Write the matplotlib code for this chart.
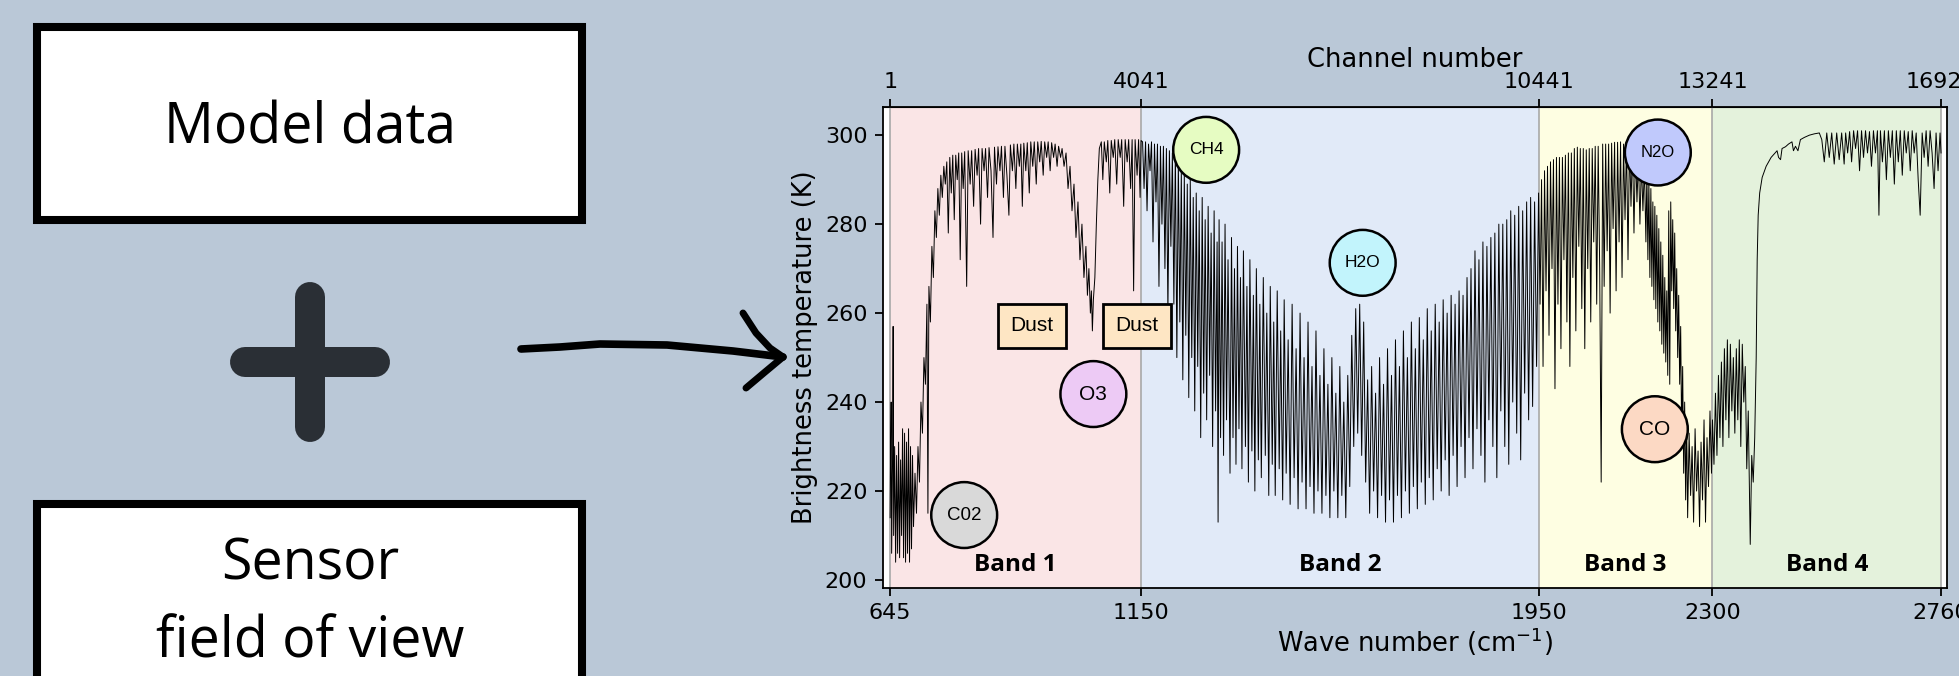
import matplotlib
matplotlib.use('Agg')
import matplotlib.pyplot as plt
from matplotlib.patches import Rectangle

# --- dados ---
band_names = ['Band 1', 'Band 2', 'Band 3', 'Band 4']
band_edges = [645, 1150, 1950, 2300, 2760]
band_colors = ['#fae5e6', '#e1eaf8', '#fefee2', '#e4f2dc']
wn_ticks = [645, 1150, 1950, 2300, 2760]
ch_ticks = [1, 4041, 10441, 13241, 16921]
bt_ticks = [200, 220, 240, 260, 280, 300]

molecules = ['C02', 'O3', 'CH4', 'H2O', 'N2O', 'CO']
mol_wn = [794, 1054, 1281, 1596, 2190, 2184]
mol_bt = [214.6, 241.8, 296.7, 271.3, 296.1, 233.9]
mol_colors = ['#d9d9d9', '#edcaf5', '#e6fcc2', '#c2f4fc', '#c0c9fc', '#fcd9c4']
mol_fontsize = [13.5, 15, 12.5, 12.5, 12, 15]

dust_wn = [931, 1142]
dust_bt = [257.1, 257.1]

# espectro (numero de onda, temperatura de brilho) - picos e vales lidos a olho
band1 = [(645, 214), (646, 231), (647, 240), (648, 206), (650, 229), (651, 257), (652, 210), (654, 230),
         (656, 204), (658, 228), (660, 206), (662, 231), (664, 205), (666, 227), (668, 210), (670, 234),
         (672, 205), (674, 233), (676, 204), (678, 231), (680, 206), (682, 234), (684, 204), (686, 230),
         (688, 207), (690, 228), (692, 212), (695, 224), (698, 215), (701, 230), (704, 222), (707, 240),
         (710, 233), (713, 250), (716, 244), (719, 262), (721, 215), (723, 266), (726, 258), (729, 275),
         (732, 268), (735, 283), (738, 277), (741, 288), (744, 282), (747, 291), (750, 286), (753, 293),
         (756, 289), (759, 294), (762, 278), (765, 295), (768, 287), (771, 295.5), (774, 281), (777, 295.5),
         (780, 290), (783, 296), (786, 272), (789, 296), (792, 288), (795, 296.3), (799, 266), (802, 296.5),
         (806, 289), (809, 296.5), (813, 284), (816, 296.8), (820, 291), (823, 297), (827, 280), (830, 297),
         (834, 292), (837, 297), (841, 286), (844, 297.2), (848, 292), (852, 277), (855, 297.3), (859, 289),
         (862, 297.4), (866, 292), (869, 297.5), (873, 286), (876, 297.5), (880, 291), (884, 282), (887, 297.8),
         (891, 292), (894, 298), (898, 288), (901, 298), (905, 293), (908, 298), (911, 284), (914, 298.2),
         (918, 292), (921, 298.3), (925, 287), (928, 298.5), (932, 293), (935, 298.5), (939, 289), (942, 298.5),
         (946, 294), (949, 298.6), (953, 291), (956, 298.5), (960, 295), (963, 298.5), (967, 292), (970, 298.3),
         (974, 295), (977, 298), (981, 293), (984, 297.5), (988, 295), (991, 297),
         (995, 293), (999, 296), (1003, 288), (1007, 293), (1011, 283), (1015, 289), (1019, 277), (1023, 285),
         (1027, 272), (1031, 280), (1035, 268), (1039, 275), (1042, 264), (1045, 270), (1048, 260), (1050, 265),
         (1052, 256), (1054, 263), (1057, 268), (1060, 280), (1063, 290), (1066, 297),
         (1070, 298.5), (1073, 290), (1076, 298.5), (1080, 294), (1083, 298.8), (1087, 287), (1090, 298.8),
         (1094, 295), (1097, 299), (1101, 289), (1104, 299), (1108, 295), (1111, 299), (1115, 284), (1118, 299),
         (1122, 294), (1125, 299), (1129, 288), (1132, 299), (1135, 265), (1138, 299), (1142, 291), (1145, 299),
         (1148, 286), (1150, 298.8)]

band2 = [(1153, 298.5), (1156, 288), (1159, 298.5), (1162, 283), (1165, 298), (1168, 292), (1171, 298.5),
         (1174, 276), (1177, 298), (1180, 285), (1183, 298), (1186, 266), (1189, 297.5), (1192, 280),
         (1195, 297.5), (1198, 270), (1201, 297), (1204, 260), (1207, 296.5), (1210, 275), (1213, 296),
         (1216, 262), (1219, 296), (1222, 250), (1225, 294), (1228, 258), (1231, 292), (1234, 245), (1237, 291),
         (1240, 255), (1243, 289), (1246, 241), (1249, 290), (1252, 250), (1255, 286), (1258, 238), (1261, 287),
         (1264, 248), (1267, 283), (1270, 232), (1273, 286), (1276, 242), (1279, 281), (1282, 236), (1285, 284),
         (1288, 246), (1291, 278), (1294, 230), (1297, 283), (1300, 238), (1303, 276), (1305, 213), (1307, 281),
         (1310, 232), (1313, 276), (1316, 228), (1319, 280), (1322, 236), (1325, 272), (1329, 224), (1332, 277),
         (1335, 232), (1338, 270), (1341, 226), (1344, 275), (1347, 234), (1350, 268), (1353, 225), (1356, 274),
         (1360, 230), (1363, 266), (1366, 222), (1369, 272), (1373, 229), (1376, 264), (1379, 220), (1382, 270),
         (1386, 227), (1389, 262), (1392, 223), (1396, 268), (1400, 228), (1403, 260), (1407, 219), (1410, 266),
         (1414, 226), (1417, 258), (1420, 219), (1424, 265), (1428, 225), (1431, 256), (1435, 218), (1438, 263),
         (1442, 224), (1446, 254), (1450, 217), (1454, 262), (1458, 223), (1462, 252), (1466, 216), (1470, 260),
         (1474, 222), (1478, 250), (1482, 216), (1486, 258), (1490, 221), (1494, 248), (1498, 215), (1502, 256),
         (1506, 220), (1510, 246), (1514, 215), (1518, 252), (1522, 219), (1526, 244), (1530, 214), (1534, 250),
         (1538, 220), (1542, 242), (1546, 214), (1550, 248), (1554, 219), (1558, 240), (1562, 214), (1566, 246),
         (1570, 221), (1574, 255), (1578, 230), (1582, 261), (1586, 233), (1590, 262), (1594, 228), (1598, 258),
         (1602, 222), (1606, 245), (1610, 215), (1614, 248), (1618, 220), (1622, 242), (1626, 214), (1630, 250),
         (1634, 219), (1638, 244), (1642, 213), (1646, 252), (1650, 218), (1654, 246), (1658, 213), (1662, 254),
         (1666, 219), (1670, 248), (1674, 214), (1678, 256), (1682, 220), (1686, 250), (1690, 215), (1694, 258),
         (1698, 221), (1702, 252), (1706, 216), (1710, 259), (1714, 222), (1718, 254), (1722, 217), (1726, 261),
         (1730, 223), (1734, 256), (1738, 218), (1742, 262), (1746, 225), (1750, 258), (1754, 220), (1758, 263),
         (1762, 227), (1766, 260), (1770, 219), (1774, 264), (1778, 228), (1782, 262), (1786, 221), (1790, 265),
         (1794, 230), (1798, 264), (1802, 223), (1806, 268), (1810, 232), (1814, 270), (1818, 225), (1822, 274),
         (1826, 234), (1830, 272), (1834, 228), (1838, 276), (1842, 222), (1846, 275), (1850, 236), (1854, 277),
         (1858, 230), (1862, 278), (1866, 223), (1870, 280), (1874, 238), (1878, 280), (1882, 230), (1886, 281),
         (1890, 226), (1894, 283), (1898, 240), (1902, 282), (1906, 233), (1910, 284), (1914, 227), (1918, 283),
         (1922, 242), (1926, 285), (1930, 236), (1934, 286), (1938, 239), (1942, 285), (1946, 248), (1950, 287)]

band3 = [(1953, 262), (1956, 290), (1959, 248), (1962, 292), (1965, 265), (1968, 293), (1971, 255), (1974, 294),
         (1977, 270), (1980, 294.5), (1983, 243), (1986, 295), (1989, 262), (1992, 295), (1995, 252), (1998, 295),
         (2001, 272), (2004, 295.5), (2007, 258), (2010, 296), (2013, 248), (2016, 296), (2019, 268), (2022, 297),
         (2025, 256), (2028, 297.3), (2031, 275), (2034, 297), (2037, 261), (2040, 297), (2043, 252), (2046, 296.7),
         (2049, 270), (2052, 297), (2055, 258), (2058, 297), (2061, 276), (2064, 297.5), (2067, 262), (2070, 297.5),
         (2073, 270), (2076, 222), (2079, 298), (2082, 266), (2085, 298), (2088, 274), (2091, 298), (2094, 260),
         (2097, 298.2), (2100, 279), (2103, 298.4), (2106, 265), (2109, 298.4), (2112, 276), (2115, 298.5),
         (2118, 268), (2121, 298), (2124, 281), (2127, 298.5), (2130, 272), (2133, 298.6), (2136, 284), (2139, 298),
         (2142, 278), (2145, 297), (2148, 285), (2151, 295), (2154, 280), (2157, 294), (2160, 283), (2163, 293),
         (2166, 276), (2168, 292), (2170, 272), (2172, 290), (2174, 268), (2176, 288), (2178, 266), (2180, 285),
         (2182, 263), (2184, 284), (2186, 261), (2188, 282), (2190, 258), (2192, 279), (2194, 256), (2196, 276),
         (2198, 253), (2200, 273), (2202, 251), (2204, 268), (2206, 249), (2208, 265), (2210, 246), (2212, 283),
         (2214, 244), (2216, 285), (2218, 265), (2220, 281), (2222, 261), (2224, 278), (2226, 256), (2228, 270),
         (2230, 250), (2232, 264), (2234, 244), (2236, 257), (2238, 232), (2240, 248), (2242, 224), (2244, 240),
         (2246, 218), (2248, 236), (2250, 214), (2253, 233), (2256, 219), (2259, 230), (2262, 213), (2265, 234),
         (2268, 220), (2271, 229), (2274, 212), (2277, 231), (2280, 218), (2283, 236), (2286, 213), (2289, 232),
         (2292, 221), (2295, 238), (2298, 224)]

band4 = [(2300, 236), (2303, 226), (2306, 242), (2309, 228), (2312, 246), (2315, 232), (2318, 249), (2321, 230),
         (2324, 252), (2327, 236), (2330, 254), (2333, 232), (2336, 253), (2339, 238), (2342, 250), (2345, 233),
         (2348, 252), (2351, 236), (2354, 254), (2357, 230), (2360, 253), (2363, 240), (2366, 248), (2369, 225),
         (2372, 238), (2376, 208), (2379, 228), (2382, 222), (2385, 232), (2388, 250), (2390, 272), (2392, 282),
         (2395, 287), (2400, 290.5), (2408, 293), (2418, 295), (2430, 296.5), (2433, 295), (2437, 294.5),
         (2440, 297), (2447, 297.4), (2453, 298), (2460, 298.5), (2463, 296.5), (2467, 297.5), (2472, 296.5),
         (2477, 299), (2485, 299.5), (2495, 300), (2505, 300.3), (2515, 300.5), (2520, 299),
         (2525, 294), (2530, 300.5), (2535, 295), (2540, 300.5), (2545, 293.5), (2550, 300.5), (2555, 294.5),
         (2560, 300.5), (2565, 293.5), (2568, 300.5), (2572, 296), (2576, 300.8), (2580, 294), (2584, 301),
         (2588, 297), (2592, 301), (2596, 292), (2600, 301), (2604, 295), (2608, 301), (2612, 296), (2616, 300.8),
         (2620, 293), (2624, 301), (2628, 296), (2632, 301), (2635, 282), (2638, 301), (2642, 294), (2646, 301),
         (2650, 290), (2654, 301), (2658, 295), (2662, 301), (2666, 289), (2670, 301), (2674, 294), (2678, 301),
         (2682, 291), (2686, 301), (2690, 296), (2694, 300.8), (2698, 292), (2702, 301), (2706, 296), (2710, 300.5),
         (2714, 290), (2718, 282), (2722, 300.5), (2726, 295), (2730, 301), (2734, 293), (2738, 301), (2742, 296),
         (2746, 288), (2750, 300.5), (2754, 292), (2758, 300.5), (2760, 296)]

spectrum = band1 + band2 + band3 + band4
wave_number = [p[0] for p in spectrum]
bright_temp = [p[1] for p in spectrum]

bg = '#bac8d7'

fig = plt.figure(figsize=(19.59, 6.76), dpi=100)
fig.patch.set_facecolor(bg)

# --- lado esquerdo: caixas, sinal de mais e seta (coordenadas em pixels) ---
left = fig.add_axes([0, 0, 1, 1])
left.set_xlim(0, 1959)
left.set_ylim(676, 0)
left.axis('off')

left.add_patch(Rectangle((37, 27), 545, 193, facecolor='white', edgecolor='black', lw=5.8))
left.add_patch(Rectangle((37, 504), 545, 300, facecolor='white', edgecolor='black', lw=5.8))
left.text(310, 144, 'Model data', family='Open Sans', fontsize=40, ha='center', va='baseline')
left.text(310, 580, 'Sensor', family='Open Sans', fontsize=40, ha='center', va='baseline')
left.text(310, 657, 'field of view', family='Open Sans', fontsize=40, ha='center', va='baseline')

plus_color = '#2a2f35'
left.plot([245, 375], [362, 362], color=plus_color, lw=21.6, solid_capstyle='round')
left.plot([310, 310], [297, 427], color=plus_color, lw=21.6, solid_capstyle='round')

left.plot([521, 560, 600, 667, 733, 783], [349, 347, 344, 345, 351, 357], color='black', lw=5.5,
          solid_capstyle='round', solid_joinstyle='round')
left.plot([743, 756, 770, 783], [313, 333, 348, 357], color='black', lw=5, solid_capstyle='round')
left.plot([783, 765, 746], [357, 372, 388], color='black', lw=5, solid_capstyle='round')

# --- grafico do espectro ---
ax = fig.add_axes([882.7 / 1959, 1 - 588 / 676, (1947 - 882.7) / 1959, (588 - 106.7) / 676])
ax.set_facecolor('white')

for i in range(len(band_names)):
    lo, hi = band_edges[i], band_edges[i + 1]
    ax.axvspan(lo, hi, color=band_colors[i], lw=0, zorder=0)
    ax.text((lo + hi) / 2, 203.3, band_names[i], family='Open Sans', fontweight='bold',
            fontsize=17.5, ha='center', va='center', zorder=5)
for e in band_edges:
    ax.axvline(e, color='#a8a8a8', lw=1.2, zorder=0.5)

ax.plot(wave_number, bright_temp, color='black', lw=0.7, zorder=2)

ax.scatter(mol_wn, mol_bt, s=2250, c=mol_colors, edgecolors='black', linewidths=1.8, zorder=6)
for m, x, y, fs in zip(molecules, mol_wn, mol_bt, mol_fontsize):
    ax.text(x, y, m, family='Liberation Sans', fontsize=fs, ha='center', va='center', zorder=7)

for x, y in zip(dust_wn, dust_bt):
    ax.text(x, y, 'Dust', family='Liberation Sans', fontsize=15, ha='center', va='center', zorder=7,
            bbox=dict(boxstyle='square,pad=0.6', facecolor='#fee6c4', edgecolor='black', lw=2))

ax.set_xlim(630, 2772)
ax.set_ylim(198.2, 306.4)
ax.set_xticks(wn_ticks)
ax.set_yticks(bt_ticks)
ax.tick_params(labelsize=16, length=6, width=1.3, pad=5)
for s in ax.spines.values():
    s.set_linewidth(1.3)

ax.set_xlabel('Wave number (cm$^{-1}$)', fontsize=18.5)
ax.xaxis.set_label_coords(0.5, -0.078)
ax.set_ylabel('Brightness temperature (K)', fontsize=18.5)
ax.yaxis.set_label_coords(-0.0608, 0.5)

secax = ax.secondary_xaxis('top', functions=(lambda w: (w - 645) * 8 + 1, lambda c: (c - 1) / 8 + 645))
secax.set_xticks(ch_ticks)
secax.tick_params(labelsize=16, length=6, width=1.3, pad=4.5)
secax.set_xlabel('Channel number', fontsize=18.5, labelpad=4)

fig.savefig('out.png', dpi=100, facecolor=bg)
